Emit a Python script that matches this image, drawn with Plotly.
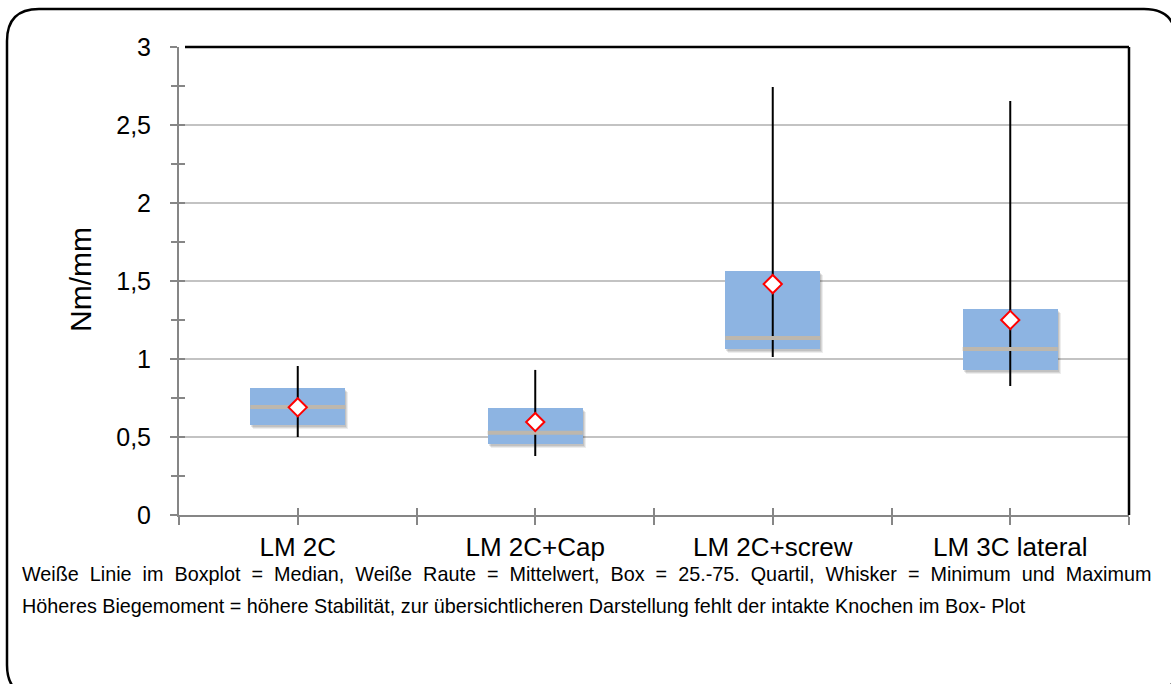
import plotly.graph_objects as go

# ---------------- data ----------------
categories = ["LM 2C", "LM 2C+Cap", "LM 2C+screw", "LM 3C lateral"]
q1 = [0.577, 0.455, 1.064, 0.930]
median = [0.692, 0.528, 1.135, 1.064]
q3 = [0.814, 0.686, 1.564, 1.320]
minimum = [0.500, 0.378, 1.013, 0.827]
maximum = [0.955, 0.930, 2.744, 2.654]
mean = [0.690, 0.596, 1.480, 1.250]
y_tick_values = [0, 0.5, 1, 1.5, 2, 2.5, 3]
y_title = "Nm/mm"
caption_lines = [
    "Weiße Linie im Boxplot = Median, Weiße Raute = Mittelwert, Box = 25.-75. Quartil, Whisker = Minimum und Maximum",
    "Höheres Biegemoment = höhere Stabilität, zur übersichtlicheren Darstellung fehlt der intakte Knochen im Box- Plot",
]

# ---------------- layout constants ----------------
FIG_W, FIG_H = 1171, 684
ML, MR, MT, MB = 179, 42, 47, 169
PW, PH = FIG_W - ML - MR, FIG_H - MT - MB
FONT = "Arial, 'Liberation Sans', sans-serif"
BOX_COLOR = "#8DB4E2"
MEDIAN_COLOR = "#BDB7AD"
AXIS_GRAY = "#868686"
GRID_GRAY = "#C3C3C3"
Y_MAX = 3.0
N = len(categories)


def px2paper(px, py):
    return (px - ML) / PW, (FIG_H - MB - py) / PH


def pt(px, py):
    x, y = px2paper(px, py)
    return f"{x:.5f},{y:.5f}"


xs = list(range(N))
box_frac = 0.4
box_px = box_frac * PW / N
unit_x = N / PW          # axis units per pixel (x)
unit_y = Y_MAX / PH      # axis units per pixel (y)

fig = go.Figure()

# whiskers (min..max) behind boxes
wx, wy = [], []
for i, lo, hi in zip(xs, minimum, maximum):
    wx += [i, i, None]
    wy += [lo, hi, None]
fig.add_trace(go.Scatter(x=wx, y=wy, mode="lines",
                         line=dict(color="black", width=2),
                         hoverinfo="skip", showlegend=False))

# soft drop shadow of the boxes
heights = [b - a for a, b in zip(q1, q3)]
for dx, dy, alpha in [(3, 4, 0.07), (2, 3, 0.09), (1, 2, 0.10)]:
    fig.add_trace(go.Bar(x=xs, y=heights, base=[a - dy * unit_y for a in q1],
                         width=box_frac, offset=-box_frac / 2 + dx * unit_x,
                         marker=dict(color=f"rgba(0,0,0,{alpha})", line=dict(width=0)),
                         hoverinfo="skip", showlegend=False))

# boxes q1..q3
fig.add_trace(go.Bar(x=xs, y=heights, base=q1,
                     width=box_frac, marker=dict(color=BOX_COLOR, line=dict(width=0)),
                     showlegend=False))

# median lines (line-ew symbol spans 1.4 * size)
fig.add_trace(go.Scatter(x=xs, y=median, mode="markers",
                         marker=dict(symbol="line-ew", size=box_px / 1.4,
                                     line=dict(color=MEDIAN_COLOR, width=4)),
                         showlegend=False))

# mean diamonds
fig.add_trace(go.Scatter(x=xs, y=mean, mode="markers",
                         marker=dict(symbol="diamond", size=14, color="white",
                                     line=dict(color="#FF0000", width=2)),
                         showlegend=False))

# rounded outer frame (right/bottom edges run just past the picture)
L, T, R, B, r = 7, 9, 1176, 697, 32
path = (f"M{pt(L + r, T)} L{pt(R - r, T)} Q{pt(R, T)} {pt(R, T + r)} "
        f"L{pt(R, B - r)} Q{pt(R, B)} {pt(R - r, B)} "
        f"L{pt(L + r, B)} Q{pt(L, B)} {pt(L, B - r)} "
        f"L{pt(L, T + r)} Q{pt(L, T)} {pt(L + r, T)} Z")
shapes = [
    dict(type="path", xref="paper", yref="paper", path=path,
         line=dict(color="black", width=2.5), fillcolor="rgba(0,0,0,0)", layer="above"),
    dict(type="line", xref="paper", yref="paper", x0=px2paper(185, 0)[0], x1=1, y0=1, y1=1,
         line=dict(color="black", width=2.5), layer="above"),
    dict(type="line", xref="paper", yref="paper", x0=1, x1=1, y0=0, y1=1,
         line=dict(color="black", width=2.5), layer="above"),
]

annotations = []
ax, ay = px2paper(80, 280)
annotations.append(dict(text=y_title, xref="paper", yref="paper", x=ax, y=ay,
                        textangle=-90, showarrow=False, xanchor="center", yanchor="middle",
                        font=dict(family=FONT, size=30, color="black")))
cap_y = [574, 606]
for k, (line, py) in enumerate(zip(caption_lines, cap_y)):
    # first line is justified in the reference: widen word gaps
    shown = line.replace(" ", " \u00a0") if k == 0 else line
    cx, cy = px2paper(20, py)
    annotations.append(dict(text=shown, xref="paper", yref="paper", x=cx, y=cy,
                            showarrow=False, xanchor="left", yanchor="middle",
                            font=dict(family=FONT, size=19.8, color="black")))

fig.update_layout(
    width=FIG_W, height=FIG_H,
    margin=dict(l=ML, r=MR, t=MT, b=MB, pad=0),
    paper_bgcolor="white", plot_bgcolor="white",
    separators=",.",
    font=dict(family=FONT, color="black"),
    bargap=0, barmode="overlay",
    shapes=shapes, annotations=annotations,
    xaxis=dict(range=[-0.5, N - 0.5], tickvals=xs, ticktext=categories,
               showgrid=False, zeroline=False, showline=True, linecolor=AXIS_GRAY, linewidth=2,
               ticks="outside", ticklen=8, tickwidth=1.5, tickcolor=AXIS_GRAY,
               minor=dict(ticks="outside", dtick=0.5, tick0=-0.5, ticklen=8,
                          tickwidth=1.5, tickcolor=AXIS_GRAY, showgrid=False),
               tickfont=dict(family=FONT, size=26, color="black"),
               ticklabelstandoff=0, fixedrange=True),
    xaxis2=dict(overlaying="x", anchor="y", side="bottom",
                range=[-0.5, N - 0.5], tickvals=xs, showticklabels=False,
                showgrid=False, zeroline=False, showline=False,
                ticks="inside", ticklen=7, tickwidth=1.5, tickcolor=AXIS_GRAY,
                minor=dict(ticks="inside", dtick=0.5, tick0=-0.5, ticklen=7,
                           tickwidth=1.5, tickcolor=AXIS_GRAY, showgrid=False),
                fixedrange=True),
    yaxis=dict(range=[0, Y_MAX], tickvals=y_tick_values,
               showgrid=True, gridcolor=GRID_GRAY, gridwidth=2,
               zeroline=False, showline=True, linecolor=AXIS_GRAY, linewidth=2,
               ticks="outside", ticklen=7, tickwidth=1.5, tickcolor=AXIS_GRAY,
               minor=dict(ticks="outside", dtick=0.25, tick0=0, ticklen=6,
                          tickwidth=1.5, tickcolor=AXIS_GRAY, showgrid=False),
               tickfont=dict(family=FONT, size=25, color="black"),
               ticklabelstandoff=14, fixedrange=True),
    yaxis2=dict(overlaying="y", anchor="x", side="left", range=[0, Y_MAX],
                tickvals=y_tick_values, showticklabels=False,
                showgrid=False, zeroline=False, showline=False,
                ticks="inside", ticklen=6, tickwidth=1.5, tickcolor=AXIS_GRAY,
                minor=dict(ticks="inside", dtick=0.25, tick0=0, ticklen=6,
                           tickwidth=1.5, tickcolor=AXIS_GRAY, showgrid=False),
                fixedrange=True),
)

# invisible trace to activate the overlay axes
fig.add_trace(go.Scatter(x=[None], y=[None], xaxis="x2", yaxis="y2",
                         showlegend=False, hoverinfo="skip"))

fig.write_html("out.html", config={"displayModeBar": False},
               post_script="document.body.style.margin='0';document.body.style.overflow='hidden';")
